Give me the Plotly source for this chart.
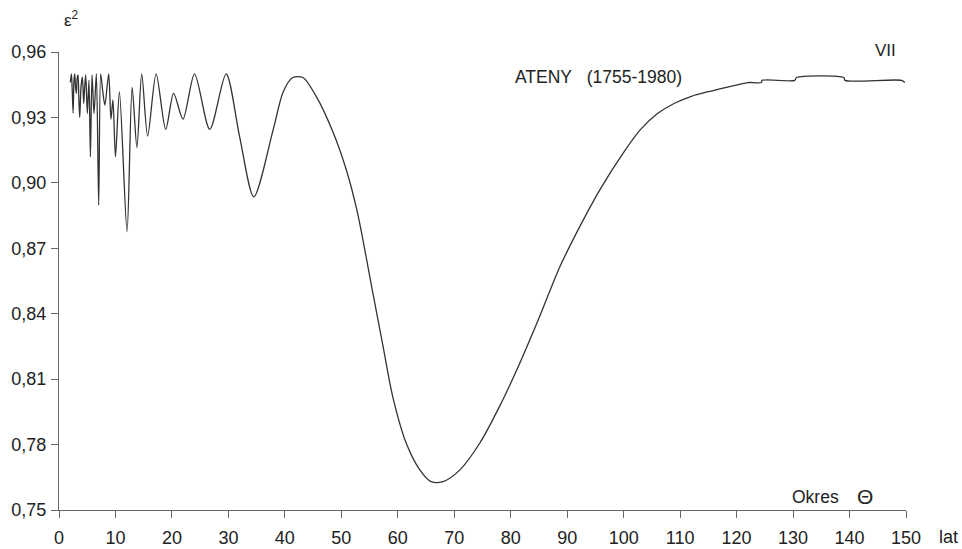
import plotly.graph_objects as go

# Period Θ (years) and ε² values
theta = [2.0, 2.2, 2.35, 2.5, 2.65, 2.78, 2.93, 3.08, 3.22, 3.37, 3.52, 3.67, 3.9, 4.14,
         4.37, 4.55, 4.73, 5.02, 5.31, 5.56, 5.85, 6.2, 6.62, 7.03, 7.38, 7.75, 8.12, 8.8,
         9.2, 9.55, 10.0, 10.7, 12.05, 12.95, 13.8, 14.65, 15.7, 17.2, 18.9, 20.3, 21.96,
         24.0, 26.7, 29.6, 32.0, 34.5, 37.9, 39.7, 41.4, 43.2, 45.6, 48.5, 50.9, 52.8,
         55.6, 57.4, 59.1, 61.5, 63.9, 65.9, 68.0, 71.0, 74.5, 78.0, 81.6, 85.1, 88.7,
         92.2, 95.75, 100.0, 103.0, 106.0, 109.0, 112.0, 115.0, 118.0, 120.5, 122.0,
         124.4, 124.5, 130.3, 130.6, 139.0, 139.2, 149.2, 149.8]
eps2 = [0.946, 0.950, 0.942, 0.932, 0.947, 0.950, 0.944, 0.941, 0.948, 0.9495, 0.938, 0.930,
        0.944, 0.9486, 0.9364, 0.944, 0.9495, 0.9318, 0.947, 0.9119, 0.9495, 0.9318, 0.950,
        0.8898, 0.950, 0.942, 0.9356, 0.950, 0.9292, 0.938, 0.9120, 0.9417, 0.8776, 0.9438,
        0.9162, 0.950, 0.9214, 0.950, 0.9245, 0.941, 0.9292, 0.950, 0.9245, 0.950, 0.921,
        0.8936, 0.9241, 0.9417, 0.9483, 0.9483, 0.9394, 0.9234, 0.9058, 0.887, 0.8493,
        0.8249, 0.802, 0.7806, 0.7684, 0.763, 0.763, 0.7684, 0.7806, 0.7974, 0.8173,
        0.8386, 0.8615, 0.8798, 0.8967, 0.9140, 0.9245, 0.9318, 0.9365, 0.9397, 0.9418,
        0.9437, 0.9452, 0.946, 0.946, 0.947, 0.947, 0.9483, 0.9483, 0.947, 0.947, 0.946]

x_ticks = list(range(0, 151, 10))
y_ticks = [0.75, 0.78, 0.81, 0.84, 0.87, 0.90, 0.93, 0.96]

FONT = "Liberation Sans, Arial, sans-serif"
TXT = "#222222"

fig = go.Figure()
fig.add_trace(go.Scatter(x=theta, y=eps2, mode="lines",
                         line=dict(color="#333333", width=1.3, shape="spline", smoothing=0.8),
                         hoverinfo="skip", showlegend=False))

fig.update_layout(
    width=962, height=549,
    margin=dict(l=59, r=56, t=52, b=39),
    paper_bgcolor="white", plot_bgcolor="white",
    separators=", ",
    font=dict(family=FONT, size=18, color=TXT),
    showlegend=False,
)
fig.update_xaxes(range=[0, 150], tickvals=x_ticks, showgrid=False, zeroline=False,
                 showline=True, linecolor="#666666", linewidth=1, automargin=False,
                 ticks="outside", ticklen=7, tickcolor="#666666",
                 ticklabelstandoff=4, tickfont=dict(size=18, color=TXT, family=FONT))
fig.update_yaxes(range=[0.75, 0.96], tickvals=y_ticks, tickformat=".2f", showgrid=False,
                 zeroline=False, showline=True, linecolor="#666666", linewidth=1,
                 automargin=False, ticks="outside", ticklen=7, tickcolor="#666666",
                 ticklabelstandoff=1, tickfont=dict(size=18, color=TXT, family=FONT))

ann = [
    dict(x=0.0153, y=1.072, text="ε<sup>2</sup>", xanchor="center", yanchor="middle",
         xref="paper", yref="paper", size=17),
    dict(x=0.976, y=1.004, text="VII", xanchor="center", yanchor="middle",
         xref="paper", yref="paper", size=17),
    dict(x=80.4, y=0.9486, text="ATENY\u00a0\u00a0\u00a0(1755-1980)", xanchor="left",
         yanchor="middle", xref="x", yref="y", size=17.5),
    dict(x=129.4, y=0.7558, text="Okres", xanchor="left", yanchor="middle",
         xref="x", yref="y", size=17.5),
    dict(x=142.8, y=0.7562, text="Θ", xanchor="center", yanchor="middle",
         xref="x", yref="y", size=21),
    dict(x=1.0366, y=-0.059, text="lat", xanchor="left", yanchor="middle",
         xref="paper", yref="paper", size=18),
]
for a in ann:
    size = a.pop("size")
    fig.add_annotation(**a, showarrow=False,
                       font=dict(family=FONT, color=TXT, size=size))

fig.write_html("out.html")
